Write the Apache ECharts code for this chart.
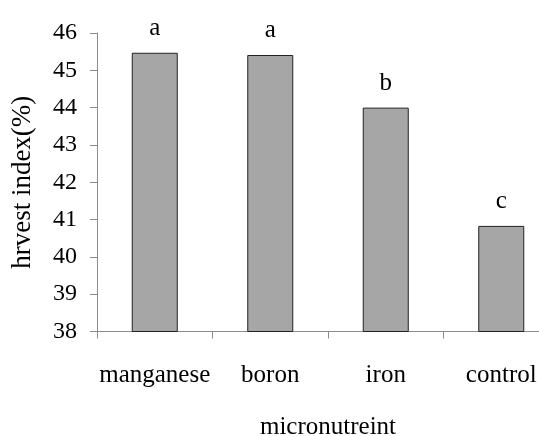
<!DOCTYPE html>
<html><head><meta charset="utf-8">
<script src="https://cdn.jsdelivr.net/npm/echarts@6/dist/echarts.min.js"></script>
<style>html,body{margin:0;padding:0;background:#fff}#c{width:539px;height:436px}</style>
</head><body><div id="c"></div>
<script>
var categories = ['manganese', 'boron', 'iron', 'control'];
var values = [45.47, 45.41, 44.0, 40.83];
var letters = ['a', 'a', 'b', 'c'];
var yMin = 38, yMax = 46, yStep = 1;

var chart = echarts.init(document.getElementById('c'));
var font = '"Liberation Serif", "Times New Roman", serif';
chart.setOption({
  animation: false,
  backgroundColor: '#fff',
  grid: { left: 97, top: 33, bottom: 104.5, right: -20, containLabel: false, outerBoundsMode: 'none' },
  xAxis: {
    type: 'category', data: categories,
    name: 'micronutreint', nameLocation: 'middle', nameGap: 83,
    nameTextStyle: { fontFamily: font, fontSize: 25, color: '#000' },
    axisLine: { lineStyle: { color: '#8c8c8c', width: 1 } },
    axisTick: { show: true, length: 7, lineStyle: { color: '#8c8c8c' } },
    axisLabel: { fontFamily: font, fontSize: 25, color: '#000', margin: 31, interval: 0 }
  },
  yAxis: {
    type: 'value', min: yMin, max: yMax, interval: yStep,
    name: 'hrvest index(%)', nameLocation: 'middle', nameGap: 61,
    nameTextStyle: { fontFamily: font, fontSize: 27, color: '#000' },
    splitLine: { show: false },
    axisLine: { show: true, lineStyle: { color: '#8c8c8c', width: 1 } },
    axisTick: { show: true, length: 7, lineStyle: { color: '#8c8c8c' } },
    axisLabel: { fontFamily: font, fontSize: 24, color: '#000', margin: 20 }
  },
  series: [{
    type: 'bar', data: values, barWidth: 46,
    itemStyle: { color: '#a6a6a6', borderColor: '#222', borderWidth: 1 },
    label: {
      show: true, position: 'top', distance: 12,
      fontFamily: font, fontSize: 25, color: '#000',
      formatter: function (p) { return letters[p.dataIndex]; }
    }
  }]
});
</script></body></html>
